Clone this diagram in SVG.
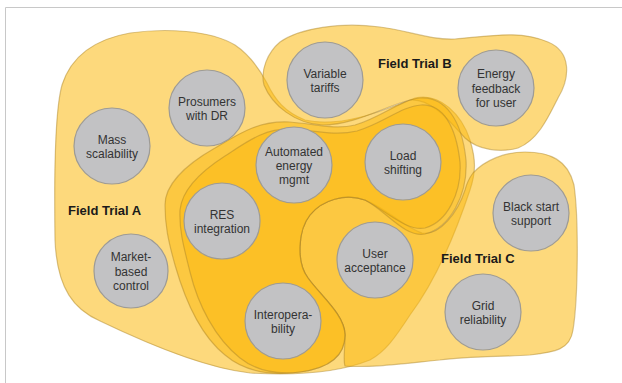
<svg xmlns="http://www.w3.org/2000/svg" width="622" height="383" viewBox="0 0 622 383">
<style>
.blob{fill:#fcb910;fill-opacity:0.55;stroke:#a8822a;stroke-opacity:0.45;stroke-width:1.2}
.node circle{fill:#c2c2c4;stroke:#9d9b96;stroke-width:1.2}
.node text{font-family:"Liberation Sans",Arial,sans-serif;font-size:12px;fill:#333;text-anchor:middle}
.trial{font-family:"Liberation Sans",Arial,sans-serif;font-size:13px;font-weight:bold;fill:#1a1a1a}
.frame{stroke:#c8c8c8;stroke-width:1;fill:none}
</style>
<rect width="622" height="383" fill="#fff"/>
<path class="frame" d="M5.5,383 V7.5 H622"/>
<g id="regions">
<path id="trial-a" class="blob" d="M55,240 C54,170 55,110 62,85 C70,60 90,40 130,33 C165,28 210,30 235,45 C250,55 260,70 267,83 C275,100 285,112 305,120 C340,128 380,112 415,98 C440,92 462,115 470,140 C476,160 476,172 470,190 C460,220 440,275 410,315 C395,338 385,352 370,360 C340,372 300,376 250,373 C205,368 150,345 100,321 C75,310 57,290 55,240 Z"/>
<path id="trial-b" class="blob" d="M280,42 C300,28 340,22 380,27 C410,31 430,40 455,39 C490,36 520,30 548,42 C572,52 570,78 558,98 C548,118 538,140 518,148 C500,153 478,150 465,138 C452,124 432,98 410,100 C385,106 355,125 323,125 C295,124 272,105 264,85 C260,70 268,52 280,42 Z"/>
<path id="trial-c" class="blob" d="M473,173 C485,160 505,152 525,152 C550,152 568,160 574,185 C579,220 578,300 573,330 C570,350 555,352 530,355 C500,357 470,356 440,360 C400,364 370,368 345,366 C343,360 345,350 345,335 C345,315 320,295 308,278 C296,262 298,230 310,215 C322,200 345,193 365,200 C385,207 405,228 422,233 C440,236 458,212 465,190 C467,182 470,177 473,173 Z"/>
<path id="core-outer" class="blob" d="M165,205 C165,185 185,165 215,148 C240,133 260,120 290,122 C315,124 335,130 355,125 C380,118 400,100 420,98 C445,96 462,120 466,160 C468,195 450,228 425,234 C405,238 385,210 365,200 C345,193 322,200 310,215 C298,230 296,262 308,278 C320,295 345,315 345,335 C345,355 330,368 300,372 C270,376 245,372 225,355 C200,335 185,300 175,265 C168,240 165,225 165,205 Z"/>
<path id="core-inner" class="blob" d="M180,210 C182,190 200,172 225,156 C248,141 265,128 292,129 C316,131 336,136 357,131 C382,124 402,106 421,105 C443,104 456,126 460,162 C462,193 447,222 425,228 C407,232 385,210 365,200 C345,193 322,200 310,215 C298,230 296,262 308,278 C320,295 345,315 345,335 C345,355 330,368 300,372 C275,375 255,370 240,358 C215,338 198,305 190,272 C184,248 179,230 180,210 Z"/>
</g>
<g id="connectors"></g>
<g id="mass-scalability" class="node"><circle cx="112" cy="146" r="38"/><text x="112" y="143.5">Mass</text><text x="112" y="158">scalability</text></g>
<g id="prosumers" class="node"><circle cx="207" cy="108" r="38"/><text x="207" y="105.5">Prosumers</text><text x="207" y="120">with DR</text></g>
<g id="variable-tariffs" class="node"><circle cx="325" cy="80" r="38"/><text x="325" y="77.5">Variable</text><text x="325" y="92">tariffs</text></g>
<g id="energy-feedback" class="node"><circle cx="496" cy="88" r="38"/><text x="496" y="78">Energy</text><text x="496" y="92.5">feedback</text><text x="496" y="107">for user</text></g>
<g id="automated-energy" class="node"><circle cx="294" cy="165" r="38"/><text x="294" y="155.5">Automated</text><text x="294" y="170">energy</text><text x="294" y="184">mgmt</text></g>
<g id="load-shifting" class="node"><circle cx="403" cy="162" r="38"/><text x="403" y="159.5">Load</text><text x="403" y="174">shifting</text></g>
<g id="res-integration" class="node"><circle cx="222" cy="221" r="38"/><text x="222" y="218.5">RES</text><text x="222" y="233">integration</text></g>
<g id="market-control" class="node"><circle cx="131" cy="271" r="37"/><text x="131" y="261">Market-</text><text x="131" y="275.5">based</text><text x="131" y="290">control</text></g>
<g id="interoperability" class="node"><circle cx="283" cy="321" r="38"/><text x="283" y="318.5">Interopera-</text><text x="283" y="333">bility</text></g>
<g id="user-acceptance" class="node"><circle cx="375" cy="260" r="38"/><text x="375" y="257.5">User</text><text x="375" y="272">acceptance</text></g>
<g id="black-start" class="node"><circle cx="531" cy="213" r="38"/><text x="531" y="210.5">Black start</text><text x="531" y="225">support</text></g>
<g id="grid-reliability" class="node"><circle cx="483" cy="312" r="38"/><text x="483" y="309.5">Grid</text><text x="483" y="324">reliability</text></g>
<g id="labels">
<text class="trial" x="68" y="215">Field Trial A</text>
<text class="trial" x="378" y="68">Field Trial B</text>
<text class="trial" x="441" y="263">Field Trial C</text>
</g>
</svg>
